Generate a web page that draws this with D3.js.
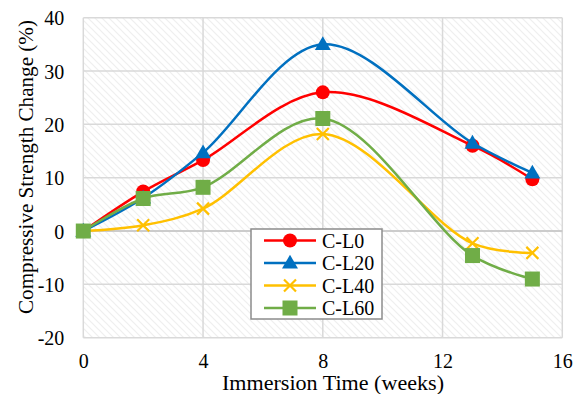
<!DOCTYPE html>
<html><head><meta charset="utf-8">
<script src="https://cdn.jsdelivr.net/npm/d3@7"></script>
<style>body{margin:0;background:#fff}svg{display:block}text{font-family:'Liberation Serif','Tinos','Times New Roman',Times,'DejaVu Serif',serif;fill:#000}</style>
</head><body><svg id="c" width="581" height="394"></svg>
<script>
const weeks = [0, 2, 4, 8, 13, 15];
const cL0  = [0, 7.4, 13.3, 26.0, 16.0, 9.7];
const cL20 = [0, 6.2, 14.7, 35.0, 16.5, 10.9];
const cL40 = [0, 1.1, 4.2, 18.2, -2.3, -4.1];
const cL60 = [0, 6.1, 8.2, 21.1, -4.6, -9.0];
const seriesNames = ["C-L0", "C-L20", "C-L40", "C-L60"];
const seriesColors = ["#FF0000", "#0070C0", "#FFC000", "#70AD47"];
const seriesMarkers = ["circle", "triangle", "cross", "square"];
const xTicks = [0, 4, 8, 12, 16];
const yTicks = [-20, -10, 0, 10, 20, 30, 40];
const xTitle = "Immersion Time (weeks)";
const yTitle = "Compressive Strength Change (%)";

const series = [cL0, cL20, cL40, cL60].map((v, i) => ({name: seriesNames[i], color: seriesColors[i], marker: seriesMarkers[i], values: v}));

const svg = d3.select("#c");
const FONT = "'Liberation Serif','Tinos','Times New Roman',Times,'DejaVu Serif',serif";
const L = 83.3, R = 562.3, T = 17.7, B = 337.7;
const x = d3.scaleLinear().domain([0, 16]).range([L, R]);
const y = d3.scaleLinear().domain([-20, 40]).range([B, T]);

const defs = svg.append("defs");
const pat = defs.append("pattern").attr("id", "hatch").attr("patternUnits", "userSpaceOnUse")
  .attr("width", 7).attr("height", 7);
pat.append("rect").attr("width", 7).attr("height", 7).attr("fill", "#fff");
pat.append("path").attr("d", "M-2,-2 L9,9 M-2,5 L2,9 M5,-2 L9,2").attr("stroke", "#efefef").attr("stroke-width", 1.2);

svg.append("rect").attr("x", L).attr("y", T).attr("width", R - L).attr("height", B - T).attr("fill", "url(#hatch)");

svg.append("g").selectAll("line").data(yTicks).join("line")
  .attr("x1", L).attr("x2", R).attr("y1", d => y(d)).attr("y2", d => y(d))
  .attr("stroke", "#d9d9d9").attr("stroke-width", 1.5);
svg.append("g").selectAll("line").data(xTicks).join("line")
  .attr("y1", T).attr("y2", B).attr("x1", d => x(d)).attr("x2", d => x(d))
  .attr("stroke", "#d9d9d9").attr("stroke-width", 1.5);
svg.append("line").attr("x1", L).attr("x2", R).attr("y1", y(0)).attr("y2", y(0))
  .attr("stroke", "#c4c4c4").attr("stroke-width", 1.5);

const fmt = d => String(d);
const xAxis = svg.append("g").attr("transform", `translate(0,${B})`)
  .call(d3.axisBottom(x).tickValues(xTicks).tickFormat(fmt).tickSize(0));
xAxis.attr("font-family", FONT).attr("font-size", 20);
xAxis.select(".domain").remove();
xAxis.selectAll("text").attr("dy", null).attr("y", 30);
const yAxis = svg.append("g").attr("transform", `translate(${L},0)`)
  .call(d3.axisLeft(y).tickValues(yTicks).tickFormat(fmt).tickSize(0).tickPadding(19));
yAxis.attr("font-family", FONT).attr("font-size", 20);
yAxis.select(".domain").remove();
yAxis.selectAll("text").attr("dy", "0.35em");

svg.append("text").attr("x", 333).attr("y", 390).attr("text-anchor", "middle").attr("font-family", FONT).attr("font-size", 20)
  .attr("textLength", 222).attr("lengthAdjust", "spacingAndGlyphs").text(xTitle);
svg.append("text").attr("transform", "translate(33,167) rotate(-90)").attr("text-anchor", "middle").attr("font-family", FONT).attr("font-size", 21)
  .attr("textLength", 294).attr("lengthAdjust", "spacingAndGlyphs").text(yTitle);

const line = d3.line().x((d, i) => x(weeks[i])).y(d => y(d)).curve(d3.curveCatmullRom.alpha(0.5));

function drawMarker(g, type, color, cx, cy) {
  if (type === "circle") g.append("circle").attr("cx", cx).attr("cy", cy).attr("r", 7).attr("fill", color);
  else if (type === "triangle") g.append("path").attr("d", d3.symbol(d3.symbolTriangle, 110)()).attr("transform", `translate(${cx},${cy + 1})`).attr("fill", color);
  else if (type === "cross") g.append("path").attr("d", "M-6,-6L6,6M-6,6L6,-6").attr("transform", `translate(${cx},${cy})`).attr("stroke", color).attr("stroke-width", 2.2).attr("fill", "none");
  else if (type === "square") g.append("rect").attr("x", cx - 7.5).attr("y", cy - 7.5).attr("width", 15).attr("height", 15).attr("fill", color);
}

series.forEach(s => {
  const g = svg.append("g");
  g.append("path").attr("d", line(s.values)).attr("fill", "none").attr("stroke", s.color).attr("stroke-width", 2.5);
  s.values.forEach((v, i) => drawMarker(g, s.marker, s.color, x(weeks[i]), y(v)));
});

const lg = svg.append("g");
lg.append("rect").attr("x", 251).attr("y", 229).attr("width", 131).attr("height", 90)
  .attr("fill", "#fff").attr("stroke", "#8c8c8c").attr("stroke-width", 1.5);
series.forEach((s, i) => {
  const cy = 240.5 + i * 22.5;
  lg.append("line").attr("x1", 264).attr("x2", 316).attr("y1", cy).attr("y2", cy).attr("stroke", s.color).attr("stroke-width", 2.5);
  drawMarker(lg, s.marker, s.color, 290, cy);
  lg.append("text").attr("x", 322).attr("y", cy).attr("dy", "0.35em").attr("font-family", FONT).attr("font-size", 20).text(s.name);
});
</script></body></html>
